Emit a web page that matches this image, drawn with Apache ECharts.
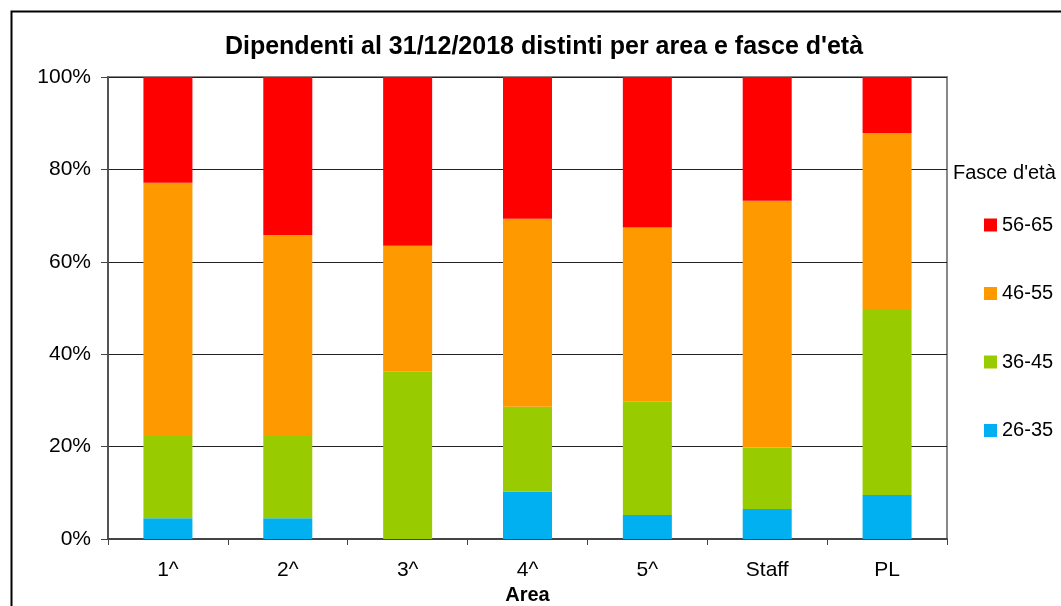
<!DOCTYPE html>
<html>
<head>
<meta charset="utf-8">
<script src="https://cdn.jsdelivr.net/npm/echarts@6/dist/echarts.min.js"></script>
<style>
html,body{margin:0;padding:0;background:#fff;}
#c{width:1061px;height:606px;}
</style>
</head>
<body>
<div id="c"></div>
<script>
const categories = ['1^', '2^', '3^', '4^', '5^', 'Staff', 'PL'];
const s26_35 = [4.5, 4.5, 0, 10.3, 5.2, 6.5, 9.5];
const s36_45 = [18.0, 18.0, 36.2, 18.3, 24.5, 13.3, 40.3];
const s46_55 = [54.6, 43.3, 27.3, 40.7, 37.7, 53.4, 38.1];
const s56_65 = [22.9, 34.2, 36.5, 30.7, 32.6, 26.8, 12.1];
const yTicks = [0, 20, 40, 60, 80, 100];

const font = '"Liberation Sans", Arial, sans-serif';
const chart = echarts.init(document.getElementById('c'), null, {renderer: 'canvas'});
function mk(name, data, color) {
  return {name, type: 'bar', stack: 'tot', data, barWidth: 49, itemStyle: {color}, animation: false};
}
chart.setOption({
  animation: false,
  backgroundColor: '#fff',
  textStyle: {fontFamily: font},
  title: {
    text: "Dipendenti al 31/12/2018 distinti per area e fasce d'età",
    left: 539, top: 30, textAlign: 'center',
    textStyle: {fontFamily: font, fontWeight: 'bold', fontSize: 25, color: '#000'}
  },
  graphic: [
    {type: 'polyline', shape: {points: [[11.5, 606], [11.5, 11.5], [1061, 11.5]]}, style: {stroke: '#000', lineWidth: 2, fill: null}},
    {type: 'text', left: 953, top: 163, style: {text: "Fasce d'età", font: '20px ' + font, fill: '#000'}}
  ],
  legend: {
    orient: 'vertical', left: 979, top: 210,
    itemWidth: 13, itemHeight: 13, itemGap: 48.5,
    icon: 'rect',
    data: ['56-65', '46-55', '36-45', '26-35'],
    textStyle: {fontSize: 20, color: '#000', fontFamily: font}
  },
  grid: {left: 108, right: 114, top: 77, bottom: 67, outerBoundsMode: 'none', containLabel: false,
    show: true, borderColor: '#888', borderWidth: 2, backgroundColor: '#fff'},
  xAxis: {
    type: 'category', data: categories,
    name: 'Area', nameLocation: 'middle', nameGap: 37,
    nameTextStyle: {fontWeight: 'bold', fontSize: 20, color: '#000', fontFamily: font},
    axisLine: {lineStyle: {color: '#444', width: 2}},
    axisTick: {show: true, length: 6, lineStyle: {color: '#444'}},
    axisLabel: {fontSize: 21, color: '#000', margin: 21, fontFamily: font}
  },
  yAxis: {
    type: 'value', min: 0, max: 100, interval: 20,
    axisLine: {show: true, lineStyle: {color: '#555', width: 2}},
    axisTick: {show: true, length: 7, lineStyle: {color: '#444'}},
    axisLabel: {fontSize: 21, color: '#000', margin: 17, fontFamily: font,
      formatter: v => yTicks.includes(v) ? v + '%' : ''},
    splitLine: {lineStyle: {color: '#222', width: 1}}
  },
  series: [
    mk('26-35', s26_35, '#00B0F0'),
    mk('36-45', s36_45, '#99CC00'),
    mk('46-55', s46_55, '#FF9900'),
    mk('56-65', s56_65, '#FF0000')
  ]
});
</script>
</body>
</html>
